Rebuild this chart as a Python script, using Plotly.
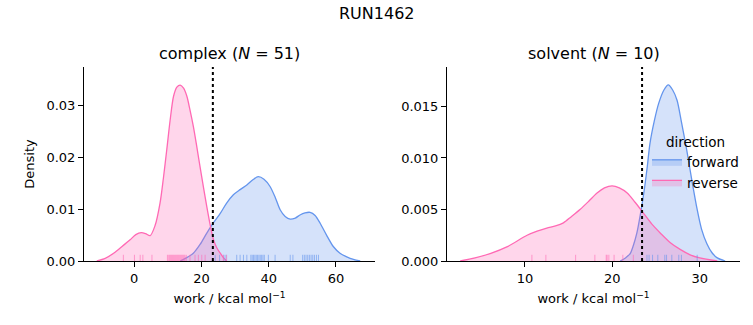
import plotly.graph_objects as go

# ---------------- data ----------------
TITLE = "RUN1462"
DG = 23.4  # dotted reference line (kcal/mol)

# complex: KDE curves
cx_fwd_x = [13.7, 15.5, 17.6, 19.6, 21.6, 23.6, 25.6, 27.5, 29.5, 31.5, 33.5, 35.3, 36.9, 38.6, 40.4, 42.0, 43.4, 44.9, 46.4, 47.9, 49.3, 50.8, 52.3, 53.8, 55.3, 57.2, 59.2, 61.2, 63.2, 65.2, 67.2]
cx_fwd_y = [0.0, 0.0006, 0.0015, 0.0032, 0.0054, 0.0074, 0.0092, 0.0112, 0.0128, 0.0138, 0.0147, 0.0157, 0.0163, 0.0158, 0.0144, 0.0122, 0.0099, 0.0086, 0.0081, 0.0083, 0.0089, 0.0093, 0.0094, 0.0088, 0.0073, 0.0050, 0.0028, 0.0015, 0.0008, 0.0003, 0.0]
cx_rev_x = [-11.1, -8.6, -6.1, -3.6, -1.2, 0.5, 2.1, 3.4, 4.75, 6.2, 7.7, 8.7, 9.7, 10.7, 11.7, 12.7, 13.7, 14.7, 15.7, 16.6, 17.6, 18.6, 19.6, 20.6, 21.6, 22.6, 23.6, 24.6, 25.6, 26.6, 27.5]
cx_rev_y = [0.0, 0.0005, 0.0015, 0.0028, 0.0041, 0.0051, 0.0055, 0.0053, 0.0049, 0.0068, 0.0112, 0.0160, 0.0215, 0.0272, 0.0318, 0.0336, 0.0340, 0.0334, 0.0318, 0.0292, 0.0260, 0.0222, 0.0182, 0.0143, 0.0105, 0.0070, 0.0041, 0.0025, 0.0015, 0.0006, 0.0]

# solvent: KDE curves
sv_fwd_x = [20.9, 21.5, 22.06, 22.4, 22.8, 23.2, 23.6, 24.0, 24.3, 24.8, 25.3, 25.9, 26.4, 26.9, 27.4, 27.9, 28.5, 29.1, 29.7, 30.2, 30.8, 31.4, 32.0, 32.9]
sv_fwd_y = [0.0, 0.0003, 0.00075, 0.0015, 0.0027, 0.0045, 0.0066, 0.0092, 0.0114, 0.0136, 0.0153, 0.0166, 0.0171, 0.0166, 0.0156, 0.0135, 0.0108, 0.0078, 0.0050, 0.0031, 0.0017, 0.0008, 0.0003, 0.0]
sv_rev_x = [2.6, 4.3, 6.1, 8.0, 10.25, 11.4, 12.5, 13.5, 14.4, 15.3, 16.3, 17.3, 18.25, 19.1, 19.97, 20.8, 21.7, 22.6, 23.6, 24.5, 25.5, 26.6, 27.8, 28.9, 30.0, 32.0]
sv_rev_y = [0.0, 0.0003, 0.00075, 0.0014, 0.0025, 0.0029, 0.0032, 0.0034, 0.0037, 0.0043, 0.0050, 0.0058, 0.0066, 0.0071, 0.0073, 0.0071, 0.0066, 0.0057, 0.0046, 0.0036, 0.0027, 0.0018, 0.0011, 0.0006, 0.0003, 0.0]

# rug samples (work values)
cx_fwd_rug = [24.1, 25.4, 26.7, 27.3, 30.5, 31.5, 32.5, 33.5, 34.7, 35.1, 35.5, 35.9, 36.3, 36.7, 37.1, 37.5, 37.9, 38.3, 38.7, 39.9, 41.9, 46.4, 47.2, 50.1, 50.6, 51.1, 51.6, 52.1, 52.6, 53.1, 53.6, 54.2, 54.8]
cx_rev_rug = [-3.2, 0.1, 1.8, 2.6, 5.3, 9.9, 10.3, 10.6, 10.9, 11.2, 11.5, 11.8, 12.1, 12.4, 12.7, 13.0, 13.3, 13.6, 13.9, 14.2, 14.5, 14.8, 15.1, 15.5, 16.6, 18.1, 19.1, 20.1, 21.1, 26.5, 27.5]
sv_fwd_rug = [23.96, 24.2, 24.6, 25.2, 26.0, 26.2, 26.8, 27.6, 27.9, 29.7]
sv_rev_rug = [10.8, 12.4, 15.8, 18.0, 19.3, 19.6, 20.2, 21.2, 22.4, 19.4]

left_title = "complex (<i>N</i> = 51)"
right_title = "solvent (<i>N</i> = 10)"
xlabel = "work / kcal mol<sup>−1</sup>"
ylabel = "Density"
left_xrange = [-14.9, 71.6]
left_yrange = [0, 0.0375]
right_xrange = [1.09, 34.6]
right_yrange = [0, 0.01883]
left_yticks = [0.0, 0.01, 0.02, 0.03]
right_yticks = [0.0, 0.005, 0.010, 0.015]
left_xticks = [0, 20, 40, 60]
right_xticks = [10, 20, 30]

# ---------------- styling ----------------
BLUE = "#6495ED"
PINK = "#FF69B4"
BLUE_FILL = "rgba(100,149,237,0.27)"
PINK_FILL = "rgba(255,105,180,0.27)"
BLUE_RUG = "rgba(100,149,237,0.6)"
PINK_RUG = "rgba(255,105,180,0.6)"
FONT = "DejaVu Sans"
RUG_FRAC = 0.032

W, H = 753, 325
def px2fx(p):
    return p / W
def py2fy(p):
    return 1 - p / H

fig = go.Figure()

def curve(x, y, line, fill, xa, ya, name, show):
    fig.add_trace(go.Scatter(x=x, y=y, mode="lines", line=dict(color=line, width=1.3, shape="spline", smoothing=0.8),
                             fill="tozeroy", fillcolor=fill, xaxis=xa, yaxis=ya, name=name,
                             legendgroup=name, showlegend=show, hoverinfo="skip"))

def rug(vals, color, xa, ya):
    xs, ys = [], []
    for v in vals:
        xs += [v, v, None]
        ys += [0, RUG_FRAC, None]
    fig.add_trace(go.Scatter(x=xs, y=ys, mode="lines", line=dict(color=color, width=1),
                             xaxis=xa, yaxis=ya, showlegend=False, hoverinfo="skip"))

curve(cx_fwd_x, cx_fwd_y, BLUE, BLUE_FILL, "x", "y", "forward", False)
curve(cx_rev_x, cx_rev_y, PINK, PINK_FILL, "x", "y", "reverse", False)
curve(sv_fwd_x, sv_fwd_y, BLUE, BLUE_FILL, "x2", "y2", "forward", True)
curve(sv_rev_x, sv_rev_y, PINK, PINK_FILL, "x2", "y2", "reverse", True)
rug(cx_fwd_rug, BLUE_RUG, "x", "y3")
rug(cx_rev_rug, PINK_RUG, "x", "y3")
rug(sv_fwd_rug, BLUE_RUG, "x2", "y4")
rug(sv_rev_rug, PINK_RUG, "x2", "y4")

# dotted reference lines
fig.add_trace(go.Scatter(x=[DG, DG], y=[0, 1], mode="lines", line=dict(color="black", width=2, dash="dot"),
                         xaxis="x", yaxis="y3", showlegend=False, hoverinfo="skip"))
fig.add_trace(go.Scatter(x=[DG, DG], y=[0, 1], mode="lines", line=dict(color="black", width=2, dash="dot"),
                         xaxis="x2", yaxis="y4", showlegend=False, hoverinfo="skip"))

ydom = [py2fy(261), py2fy(67)]
lx = [px2fx(84), px2fx(375)]
rx = [px2fx(447), px2fx(740)]

axis_common = dict(showline=True, linecolor="black", linewidth=1.1, ticks="outside", ticklen=5,
                   tickwidth=1.1, tickcolor="black", showgrid=False, zeroline=False, automargin=False,
                   tickfont=dict(family=FONT, size=13, color="black"))

fig.update_layout(
    width=W, height=H, margin=dict(l=0, r=0, t=0, b=0),
    paper_bgcolor="white", plot_bgcolor="white",
    font=dict(family=FONT, size=13, color="black"),
    xaxis=dict(domain=lx, range=left_xrange, tickvals=left_xticks, anchor="y",
               title=dict(text=xlabel, font=dict(size=13), standoff=9), **axis_common),
    yaxis=dict(domain=ydom, range=left_yrange, tickvals=left_yticks, tickformat=".2f", anchor="x",
               title=dict(text=ylabel, font=dict(size=13), standoff=8), **axis_common),
    xaxis2=dict(domain=rx, range=right_xrange, tickvals=right_xticks, anchor="y2",
                title=dict(text=xlabel, font=dict(size=13), standoff=9), **axis_common),
    yaxis2=dict(domain=ydom, range=right_yrange, tickvals=right_yticks, tickformat=".3f", anchor="x2",
                **axis_common),
    yaxis3=dict(overlaying="y", range=[0, 1], visible=False, anchor="x"),
    yaxis4=dict(overlaying="y2", range=[0, 1], visible=False, anchor="x2"),
    legend=dict(title=dict(text="direction", side="top center", font=dict(size=13.5)),
                x=px2fx(647), y=py2fy(129), xanchor="left", yanchor="top",
                bgcolor="rgba(0,0,0,0)", font=dict(size=13.5), itemwidth=30, tracegroupgap=0),
    annotations=[
        dict(text=TITLE, x=0.5, y=py2fy(13), xref="paper", yref="paper", showarrow=False,
             font=dict(size=16), xanchor="center", yanchor="middle"),
        dict(text=left_title, x=(lx[0] + lx[1]) / 2, y=py2fy(54), xref="paper", yref="paper", showarrow=False,
             font=dict(size=16), xanchor="center", yanchor="middle"),
        dict(text=right_title, x=(rx[0] + rx[1]) / 2, y=py2fy(54), xref="paper", yref="paper", showarrow=False,
             font=dict(size=16), xanchor="center", yanchor="middle"),
    ],
)

fig.write_html("out.html")
